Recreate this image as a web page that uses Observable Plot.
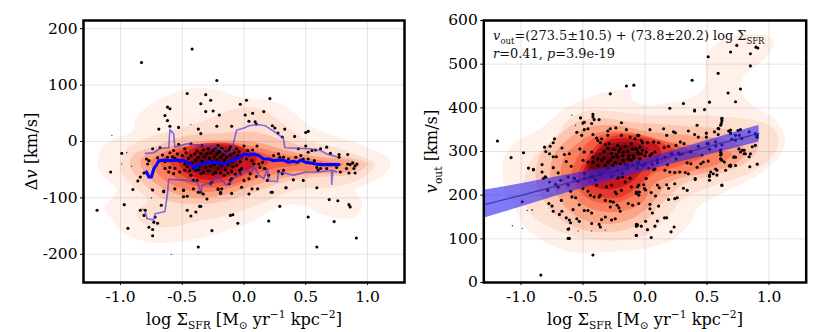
<!DOCTYPE html>
<html><head><meta charset="utf-8">
<script src="https://cdn.jsdelivr.net/npm/d3@7"></script>
<script src="https://cdn.jsdelivr.net/npm/@observablehq/plot@0.6"></script>
<style>
html,body{margin:0;padding:0;background:#fff;width:830px;height:332px;overflow:hidden}
#a,#b{position:absolute;top:0}
#a{left:0}#b{left:415px}
svg{display:block;background:#fff}
</style></head><body><div id="a"></div><div id="b"></div>
<script>
const xTicks=[-1,-0.5,0,0.5,1];
const dvTicks=[-200,-100,0,100,200];
const voutTicks=[0,100,200,300,400,500,600];
const levelColors=["#fff0e9","#fee0d3","#fdc6b0","#fca486","#fb8060","#f65e42","#e8392b","#c9181d","#9e0d14","#6f0610"];

const dvKde=[
[[-1.185,-40],[-1.15,-10],[-1.055,5],[-.91,17],[-.87,43],[-.70,73],[-.515,90],[-.355,95],[-.22,92],[-.03,79],[.19,73],[.35,61],[.51,31],[.73,11],[1.0,-10],[1.16,-28],[1.19,-40],[1.13,-60],[.97,-78],[.90,-87],[.955,-105],[.93,-128],[.835,-138],[.62,-128],[.51,-116],[.32,-113],[.08,-140],[-.14,-158],[-.46,-176],[-.785,-178],[-1.0,-158],[-1.08,-134],[-1.13,-119],[-1.03,-87],[-1.135,-63]],
[[-1.0,-40],[-.96,-16],[-.84,2],[-.62,17],[-.245,43],[-.08,58],[.13,58],[.32,31],[.51,2],[.73,-10],[.97,-28],[1.06,-40],[.97,-63],[.73,-81],[.46,-84],[.19,-105],[-.08,-128],[-.35,-140],[-.62,-152],[-.81,-146],[-.87,-128],[-.785,-105],[-.89,-81],[-.99,-57]],
[[-.925,-37],[-.89,-22],[-.70,-7],[-.515,8],[-.245,14],[.08,17],[.32,2],[.59,-16],[.86,-28],[1.0,-40],[.89,-57],[.59,-63],[.32,-72],[.05,-93],[-.22,-108],[-.46,-111],[-.68,-99],[-.84,-69],[-.91,-51]],
[[-.84,-37],[-.785,-22],[-.515,-5],[-.245,2],[.08,-1],[.35,-16],[.62,-28],[.89,-34],[.93,-43],[.835,-54],[.59,-57],[.35,-63],[.08,-78],[-.19,-96],[-.435,-99],[-.65,-84],[-.785,-60]],
[[-.76,-37],[-.68,-22],[-.46,-7],[-.14,-1],[.105,-10],[.375,-25],[.645,-34],[.81,-40],[.59,-51],[.35,-54],[.105,-66],[-.14,-84],[-.35,-90],[-.57,-78],[-.70,-57]],
[[-.68,-37],[-.57,-16],[-.38,-5],[-.11,-4],[.08,-16],[.32,-31],[.46,-40],[.24,-48],[.105,-57],[-.08,-75],[-.33,-81],[-.54,-66]],
[[-.60,-34],[-.46,-10],[-.30,-3],[-.08,-5],[.065,-20],[.20,-37],[.10,-50],[-.08,-66],[-.30,-75],[-.50,-60]],
[[-.52,-36],[-.40,-11],[-.2,-5],[-.03,-10],[.1,-27],[.08,-43],[-.1,-60],[-.3,-68],[-.48,-54]],
[[-.47,-38],[-.36,-15],[-.2,-9],[-.05,-17],[-.01,-32],[-.1,-50],[-.28,-60],[-.42,-52]],
[[-.42,-38],[-.33,-20],[-.2,-14],[-.08,-22],[-.06,-35],[-.15,-48],[-.3,-55]]
];
const voutKde=[
[[-1.15,265],[-1.135,288],[-1.054,318],[-.84,353],[-.65,398],[-.405,429],[-.216,440],[-.12,442],[-.11,421],[-.027,408],[.16,410],[.38,425],[.486,452],[.49,509],[.54,540],[.73,566],[.97,566],[1.04,551],[1.0,524],[.84,482],[.78,463],[.80,425],[.89,402],[1.054,372],[1.13,326],[1.08,288],[.89,242],[.62,204],[.43,173],[.38,143],[.24,101],[0,78],[-.35,70],[-.595,70],[-.81,93],[-.97,127],[-1.054,173],[-1.135,219]],
[[-.985,189],[-.97,242],[-.92,280],[-.73,326],[-.62,372],[-.43,395],[-.24,391],[.03,383],[.38,383],[.70,379],[1.0,360],[1.08,326],[1.0,280],[.84,250],[.57,223],[.30,189],[.16,143],[-.03,105],[-.35,97],[-.65,112],[-.865,143],[-.96,173]],
[[-.88,234],[-.84,295],[-.68,341],[-.54,368],[-.35,376],[-.135,368],[.24,360],[.57,353],[.84,341],[.92,318],[.84,280],[.62,250],[.32,227],[.135,181],[-.03,135],[-.27,116],[-.57,127],[-.78,173]],
[[-.76,242],[-.73,295],[-.595,334],[-.46,356],[-.24,360],[.03,345],[.35,337],[.65,326],[.81,303],[.73,272],[.46,250],[.19,227],[.03,173],[-.135,143],[-.38,135],[-.62,166]],
[[-.675,242],[-.65,288],[-.51,326],[-.35,345],[-.135,345],[.135,326],[.46,311],[.70,295],[.57,269],[.30,250],[.08,227],[-.03,181],[-.216,162],[-.43,169],[-.595,200]],
[[-.59,250],[-.53,295],[-.42,330],[-.27,342],[-.11,341],[.08,330],[.30,310],[.46,288],[.27,266],[.054,246],[-.07,204],[-.24,182],[-.43,188],[-.56,220]],
[[-.54,240],[-.46,290],[-.36,323],[-.22,338],[-.05,335],[.12,322],[.25,298],[.08,262],[-.05,222],[-.2,195],[-.4,200]],
[[-.5,250],[-.42,292],[-.3,325],[-.1,330],[.1,315],[.13,292],[0,262],[-.12,228],[-.28,213],[-.43,222]],
[[-.47,262],[-.40,298],[-.28,318],[-.08,320],[.03,305],[-.05,280],[-.12,262],[-.25,243],[-.4,238]],
[[-.45,265],[-.38,295],[-.27,310],[-.10,313],[-.03,298],[-.1,280],[-.22,268],[-.36,252]]
];

const dvPoints=[[-.42,164],[-.83,140],[-.22,108],[-.46,85],[-.31,83],[-.27,73],[-.35,67],[.02,73],[-.03,66],[.21,76],[-.62,61],[-.60,58],[-.31,53],[-.25,54],[-.20,47],[.01,47],[.07,50],[.16,53],[-.64,46],[-.62,37],[-.69,22],[-.60,27],[-.53,25],[-.22,27],[-.37,22],[-.35,14],[-.10,27],[.04,36],[.09,35],[.10,31],[.23,28],[.25,24],[.33,22],[.41,9],[.50,16],[.52,18],[-.99,-21],[-1.08,-54],[-.90,-85],[-.97,-112],[-1.19,-122],[-.94,-154],[-.80,-122],[-.84,-122],[-.81,-131],[-.72,-134],[-.73,-143],[-.70,-145],[-.77,-152],[-.74,-156],[-.74,-167],[-.67,-113],[-.65,-89],[-.46,-122],[-.39,-125],[-.43,-132],[-.36,-115],[-.35,-115],[-.26,-158],[-.37,-187],[-.11,-131],[-.09,-130],[-.05,-145],[.20,-141],[.29,-115],[.52,-134],[.59,-187],[.73,-142],[.69,-103],[.76,-105],[.85,-112],[.86,-116],[.91,-171],[.59,-82],[.23,-90],[.34,-82],[.04,-93],[-.10,-92],[.11,-84],[-.19,-92],[-.21,-85],[-.18,-84],[-.30,-102],[-.49,-98],[-.46,-97],[-.35,-90],[-.41,-84],[-.49,-87],
[-.74,-13],[-.79,-31],[-.78,-40],[-.77,-34],[-.81,-56],[-.84,-63],[-.86,-70],[-.70,-29],[-.68,-11],[-.57,-16],[-.53,-5],[-.48,-13],[-.43,-4],[-.34,-7],[-.21,-7],[-.11,-10],[-.06,-13],[-.64,-48],[-.60,-46],[-.57,-57],[-.61,-54],[-.56,-48],[-.52,-54],[-.48,-51],[-.43,-60],[-.39,-51],[-.35,-57],[-.38,-69],[-.41,-69],[-.56,-84],[-.49,-86],[-.65,-88],[-.74,-86],[-.33,-93],[-.37,-90],[-.27,-75],[-.26,-72],[-.21,-84],[-.19,-90],[-.11,-69],[-.12,-75],[-.10,-66],[-.03,-57],[-.035,-51],[.04,-66],[.05,-57],[-.02,-81],
[-.47,-20],[-.45,-30],[-.43,-25],[-.42,-38],[-.40,-22],[-.39,-33],[-.38,-17],[-.37,-28],[-.36,-42],[-.35,-21],[-.34,-35],[-.33,-15],[-.32,-27],[-.31,-46],[-.30,-22],[-.30,-37],[-.29,-13],[-.28,-30],[-.27,-20],[-.27,-44],[-.26,-35],[-.25,-16],[-.24,-27],[-.24,-41],[-.23,-11],[-.22,-33],[-.22,-22],[-.21,-48],[-.20,-18],[-.20,-38],[-.19,-28],[-.18,-12],[-.18,-43],[-.17,-24],[-.16,-33],[-.15,-19],[-.15,-50],[-.14,-28],[-.13,-40],[-.12,-15],[-.11,-24],[-.10,-35],[-.09,-45],[-.08,-20],[-.07,-30],[-.06,-42],[-.05,-25],[-.04,-18],[-.03,-36],[-.02,-48],[-.50,-25],[-.52,-35],[-.54,-22],[-.56,-30],[-.58,-27],[-.60,-20],[-.62,-28],[-.64,-36],[-.66,-24],[-.48,-40],[-.46,-45],[-.44,-52],[-.41,-47],[-.37,-50],[-.33,-55],[-.29,-52],[-.25,-58],[-.23,-55],[-.19,-56],[-.16,-60],[-.13,-56],[-.10,-53],[-.07,-58],
[.275,15],[.31,8],[.50,-8],[.44,-13],[.58,-15],[.62,-13],[.67,-10],[.52,-19],[.55,-16],[.70,-21],[.77,-23],[.77,-28],[.84,-23],[0,-8],[.03,-16],[.07,-15],[.105,-8],[-.01,-25],[.02,-31],[.065,-34],[.08,-40],[.12,-40],[.15,-37],[.13,-46],[.17,-48],[.24,-25],[.28,-22],[.29,-28],[.32,-28],[.36,-31],[.42,-28],[.46,-25],[.48,-31],[.52,-31],[.57,-34],[.62,-40],[.59,-46],[.62,-48],[.60,-51],[.67,-48],[.75,-46],[.78,-54],[.84,-40],[.86,-41],[.88,-38],[.90,-43],[.89,-48],[.915,-40],[.83,-48],[.85,-56],[.90,-56],[.28,-53],[.32,-51],[.31,-57],[.40,-68],[.48,-69],[.34,-82],[.22,-90],[.065,-84],[0,-69],[.10,-62],[.19,-69],[.165,-48],[.20,-60]];
const dvTiny=[[-1.07,11],[-.43,30],[-.59,-200],[-.95,-20],[-.91,-44],[-.99,-40],[-.86,-68],[-.75,-84],[-.75,-100],[-.82,-120]];

const medianX=[-.79,-.77,-.75,-.73,-.71,-.69,-.65,-.60,-.54,-.49,-.46,-.43,-.41,-.39,-.37,-.35,-.31,-.27,-.23,-.19,-.17,-.14,-.11,-.07,-.03,0,.04,.08,.12,.16,.20,.24,.27,.32,.36,.40,.43,.46,.50,.54,.58,.62,.68,.77];
const medianY=[-54,-63,-63,-48,-42,-34,-33,-34,-33,-34,-37,-40,-45,-48,-41,-40,-38,-37,-37,-38,-40,-38,-35,-31,-27,-22,-24,-22,-25,-31,-31,-34,-33,-33,-37,-35,-37,-33,-37,-38,-40,-41,-41,-41];
const p75X=[-.80,-.73,-.68,-.61,-.60,-.57,-.56,-.46,-.35,-.22,-.14,-.10,-.08,-.06,0,.04,.11,.17,.27,.32,.33,.43,.54,.62,.67,.75];
const p75Y=[-21,-20,-12,-11,21,14,-10,-4,-7,-10,-22,-16,2,20,24,28,30,28,14,5,-11,-12,-13,-16,-22,-27];
const p25X=[-.80,-.785,-.73,-.72,-.64,-.62,-.61,-.52,-.46,-.38,-.35,-.34,-.29,-.27,-.26,-.22,-.165,-.14,-.07,.01,.065,.08,.12,.16,.19,.20,.27,.28,.35,.40,.50,.60,.71,.71,.72,.75];
const p25Y=[-125,-137,-139,-128,-124,-93,-67,-68,-69,-72,-90,-78,-74,-78,-72,-63,-72,-78,-63,-51,-54,-43,-60,-66,-48,-70,-71,-54,-57,-60,-54,-54,-51,-76,-51,-54];

const voutPoints=[[-1.19,324],[-1.08,286],[-.98,297],[-.94,262],[-.90,259],[-.99,185],[-.84,17],[-.42,63],[-.62,101],[-.61,101],[-.62,122],[-.28,432],[-.15,450],[-.09,452],[.38,463],[.51,517],[.59,479],[.69,528],[.74,543],[.85,524],[.895,539],[.91,537],[.85,496],[.67,434],[.77,443],[.73,414],[.52,413],[.48,396],[.40,395],[.31,410],[.20,399],[.62,376],[.62,370],
[-.52,377],[-.42,385],[-.42,379],[-.41,373],[-.49,367],[-.50,365],[-.37,373],[-.43,364],[-.46,352],[-.49,350],[-.55,344],[-.51,337],[-.19,366],[-.235,354],[-.28,352],[-.30,347],[-.30,337],[-.15,350],[-.42,339],[-.39,331],[-.38,325],[-.36,320],[-.35,329],[-.32,316],[-.29,318],[-.19,337],[-.12,333],[-.08,329],[-.06,337],[-.22,314],[-.20,306],[-.175,299],[-.11,318],[-.07,306],[-.73,329],[-.74,320],[-.765,312],[-.81,310],[-.80,300],[-.77,295],[-.74,288],[-.715,288],[-.67,308],[-.65,293],[-.61,295],[-.83,270],[-.83,253],[-.90,258],[-.74,263],[-.70,251],[-.80,241],[-.635,277],[-.595,266],[-.525,306],[-.50,280],[-.46,276],[-.42,276],[-.42,287],[-.49,299],[-.43,299],[-.38,283],[-.35,280],[-.38,268],[-.32,268],[-.28,280],[-.26,287],[-.22,287],[-.175,280],[-.135,283],[-.095,291],[-.05,295],[-.21,242],[-.18,242],
[-.805,242],[-.62,242],[-.57,239],[-.49,238],[-.42,243],[-.785,211],[-.70,218],[-.675,188],[-.60,209],[-.59,196],[-.56,194],[-.50,215],[-.46,209],[-.44,200],[-.41,196],[-.37,196],[-.36,200],[-.32,188],[-.28,186],[-.255,184],[-.28,173],[-.225,177],[-.21,171],[-.135,181],[-.10,177],[-.05,181],[-.2,163],[-.775,181],[-.75,175],[-.74,163],[-.67,163],[-.69,156],[-.58,167],[-.53,178],[-.49,165],[-.46,165],[-.43,159],[-.635,148],[-.61,143],[-.60,137],[-.55,146],[-.53,140],[-.615,123],[-.43,135],[-.37,133],[-.36,127],[-.35,144],[-.32,150],[-.27,143],[-.24,146],[-.07,133],[-.065,130],[-.07,108],[-.39,223],[-.31,219],[-.27,223],[-.24,207],[-.23,203],[-.19,211],[-.16,230],[-.11,219],[-.07,207],[-.05,223],[-.22,239],[-.12,239],
[.40,393],[.42,360],[.62,375],[.615,364],[.595,352],[.04,350],[.15,352],[.175,337],[.23,345],[.245,343],[.35,347],[.40,339],[.43,333],[.495,342],[.495,333],[.59,339],[.675,347],[.69,342],[.75,348],[.73,337],[-.05,337],[-.03,325],[-.02,320],[.02,320],[.07,322],[.11,320],[.19,312],[.25,314],[.285,322],[.315,318],[.155,309],[.30,295],[.43,312],[.50,318],[.57,312],[.61,304],[.61,298],[.615,294],[.61,283],[.64,276],[.715,287],[.73,287],[.757,306],[.785,303],[.80,295],[.73,268],[.69,266],[.65,257],[.58,257],[.57,260],[.55,249],[.51,278],[.53,253],[.47,276],[.45,272],[.42,264],[.37,272],[.34,274],[.35,249],[.325,252],[.28,253],[.24,252],[.20,253],[.16,257],[.08,260],[.07,258],[.01,238],[.405,238],[.52,243],[.04,291],[.054,295],[.01,299],[.08,299],[.10,281],[.16,287],[.215,295],[.27,297],[.365,299],[-.03,295],[-.04,283],[0,272],[-.05,276],
[.405,236],[.52,234],[.62,222],[.24,226],[.175,224],[.19,216],[.31,216],[.34,211],[.10,223],[.115,217],[-.01,224],[-.005,215],[.005,212],[-.06,219],[-.045,207],[-.07,204],[-.05,200],[.05,206],[.085,198],[.19,190],[.24,192],[.26,194],[.04,179],[.11,175],[.04,169],[.06,159],[.10,141],[.005,140],[.157,148],[.175,148],[-.06,132],[-.07,129],[-.03,129],[.08,129],[.235,127],[.02,121],[.21,116],[-.07,108],[.05,103],
[.61,360],[.59,353],[.56,345],[.69,349],[.77,350],[.84,345],[.89,341],[.905,337],[.69,341],[.76,337],[.73,326],[.865,311],[.89,314],[.905,271],[.845,265],[.81,295],[.85,295],[.84,288],[.77,299],[.80,303],[.72,288],[.69,269],[.68,267],[.62,280],[.61,292],[.61,303],[.51,318],[.58,246],[.62,223],[.52,246],
[-.33,300],[-.3,308],[-.27,296],[-.25,305],[-.23,292],[-.21,300],[-.18,290],[-.16,312],[-.14,300],[-.13,290],[-.1,305],[-.09,285],[-.06,298],[-.04,310],[-.02,303],[0,290],[-.33,285],[-.3,275],[-.26,268],[-.24,275],[-.2,272],[-.16,270],[-.14,262],[-.1,268],[-.06,262],[-.02,268],[.03,262],[.06,270],
[-.82,238],[-.77,230],[-.72,225],[-.68,234],[-.62,224],[-.57,238],[-.54,232],[-.49,250],[-.44,242],[-.4,235],[-.36,248],[-.3,261],[-.27,243],[-.22,257],[-.18,250],[-.14,268],[-.11,280],[-.06,272],[.1,275],[.18,270],[.25,283],[.28,293],[.37,300],[.46,292],[.52,305],[.57,322],[.62,315],[.7,328],[.78,330],[.9,335],[.905,332]];
const voutTiny=[[-.95,165],[-.91,166],[-1.07,130],[-.99,124],[-.54,118],[-.43,118],[-.32,120],[-.59,383],[-.56,360],[-.91,167],[-.87,210]];

const fitX=[-1.3,-1,-.7,-.4,-.2,0,.3,.6,.92];
const fitHigh=[211,226,243,258,268,282,308,333,360];
const fitLow=[147,173,199,224,240,255,277,298,322];
const fitMid=[177.6,199.7,221.8,244,258.7,273.5,295.6,317.8,341.4];

const serif="'DejaVu Serif'";
const fmt1=d=>d===0?"0.0":d.toFixed(1);

function kdeMarks(levels){
  return levels.map((poly,i)=>Plot.line(poly,{x:d=>d[0],y:d=>d[1],fill:levelColors[i],stroke:"none",curve:"catmull-rom-closed"}));
}
function dots(p,tiny){
  return [
    Plot.dot(p,{x:d=>d[0],y:d=>d[1],r:1.55,fill:"#000"}),
    Plot.dot(tiny,{x:d=>d[0],y:d=>d[1],r:.65,fill:"#222"})
  ];
}
function base(opts,yTicks,yLabel,marks){
  return Plot.plot({
    width:415,height:332,marginTop:20,marginBottom:50,marginLeft:opts.left,marginRight:opts.right,
    style:{fontFamily:serif,background:"#fff"},
    x:{domain:[-1.3,1.3]},
    y:{domain:opts.y},
    marks:[
      ...marks.under,
      Plot.gridX(xTicks,{stroke:"#777",strokeOpacity:.2,strokeWidth:1}),
      Plot.gridY(yTicks,{stroke:"#777",strokeOpacity:.2,strokeWidth:1}),
      ...marks.over,
      Plot.axisX({ticks:xTicks,tickFormat:fmt1,label:"log Σ_{SFR} [M_{⊙} yr^{−1} kpc^{−2}]",labelAnchor:"center",labelArrow:"none",labelOffset:42,tickSize:3,tickPadding:5,fontSize:15.5,fontFamily:serif,fill:"#000"}),
      Plot.axisY({ticks:yTicks,tickFormat:d=>String(d),label:yLabel,labelAnchor:"center",labelArrow:"none",labelOffset:opts.labelOffset,tickSize:3,tickPadding:3,fontSize:15.5,fontFamily:serif,fill:"#000"}),
      Plot.frame({stroke:"#000",strokeWidth:2.5})
    ]
  });
}
function rich(svg){
  svg.querySelectorAll("text").forEach(t=>{
    const s=t.textContent;
    if(!/[_^*]/.test(s))return;
    const isLabel=s.includes("[");
    const fs=isLabel?16.2:parseFloat(getComputedStyle(t).fontSize);
    if(isLabel)t.setAttribute("font-size",fs);
    const parts=s.split(/(_\{[^}]*\}|\^\{[^}]*\}|\*[^*]*\*)/).filter(x=>x);
    t.textContent="";
    let shift=0;
    const NS="http://www.w3.org/2000/svg";
    parts.forEach(p=>{
      const ts=document.createElementNS(NS,"tspan");
      let target=0,txt=p,size=null,ital=false;
      if(p.startsWith("_{")){target=.28*fs;txt=p.slice(2,-1);size=.66*fs;}
      else if(p.startsWith("^{")){target=-.38*fs;txt=p.slice(2,-1);size=.66*fs;}
      else if(p.startsWith("*")){txt=p.slice(1,-1);ital=true;}
      ts.textContent=txt;
      if(size)ts.setAttribute("font-size",size);
      if(ital)ts.setAttribute("font-style","italic");
      if(target!==shift){ts.setAttribute("dy",target-shift);shift=target;}
      t.appendChild(ts);
    });
  });
  return svg;
}

const left=base({left:83,right:11,y:[-250,214.5],labelOffset:58},dvTicks,"Δ*v* [km/s]",{
  under:kdeMarks(dvKde),
  over:[
    ...dots(dvPoints,dvTiny),
    Plot.line(p75X,{x:p75X,y:p75Y,stroke:"#4a3be6",strokeOpacity:.7,strokeWidth:1.6}),
    Plot.line(p25X,{x:p25X,y:p25Y,stroke:"#4a3be6",strokeOpacity:.7,strokeWidth:1.6}),
    Plot.line(medianX,{x:medianX,y:medianY,stroke:"#0505ff",strokeWidth:3.1})
  ]
});
const right=base({left:68.3,right:24.3,y:[0,600],labelOffset:58},voutTicks,"*v*_{out} [km/s]",{
  under:kdeMarks(voutKde),
  over:[
    ...dots(voutPoints,voutTiny),
    Plot.areaY(fitX,{x:fitX,y1:fitLow,y2:fitHigh,fill:"#2b22f0",fillOpacity:.6,clip:true}),
    Plot.line(fitX,{x:fitX,y:fitMid,stroke:"#2a1aa0",strokeOpacity:.7,strokeWidth:1.3,clip:true}),
    Plot.text(["*v*_{out}=(273.5±10.5) + (73.8±20.2) log Σ_{SFR}"],{x:-1.225,y:565,text:d=>d,textAnchor:"start",fontSize:12.9,fontFamily:serif,fill:"#111"}),
    Plot.text(["*r*=0.41, *p*=3.9e-19"],{x:-1.225,y:523,text:d=>d,textAnchor:"start",fontSize:12.9,fontFamily:serif,fill:"#111"})
  ]
});
document.getElementById("a").appendChild(left);
document.getElementById("b").appendChild(right);
rich(left);rich(right);
</script></body></html>
